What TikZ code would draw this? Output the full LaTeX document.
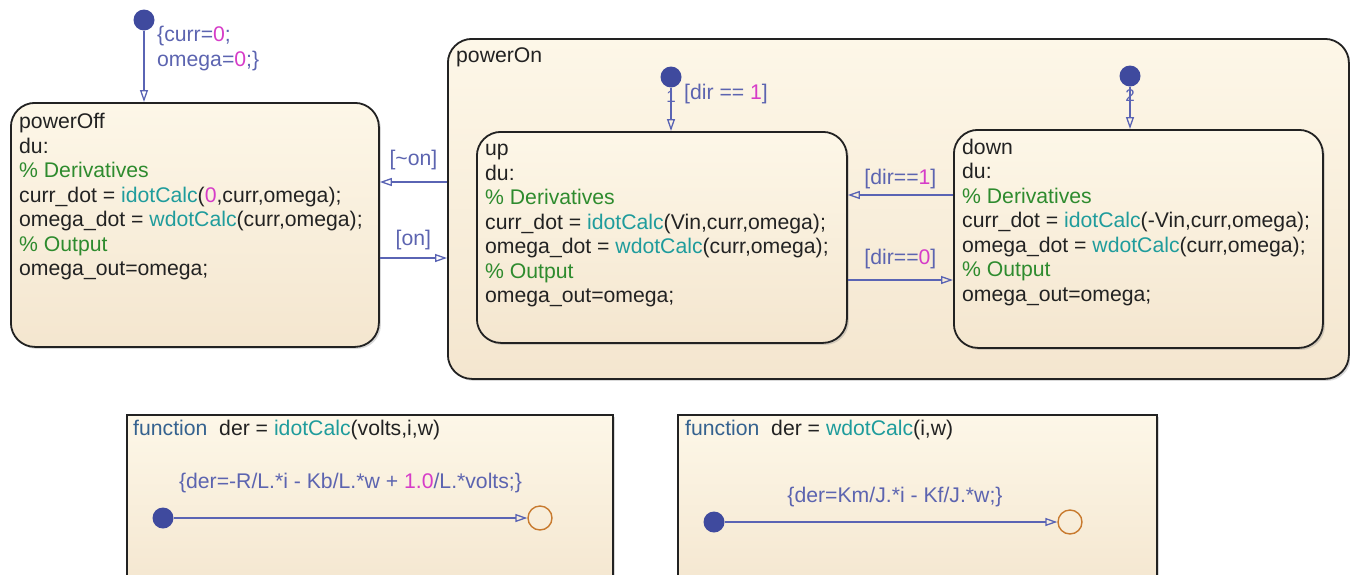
\documentclass[tikz,border=0pt]{standalone}
\usepackage{fontspec}
\setmainfont{Liberation Sans}
\usetikzlibrary{arrows.meta,positioning,shadows}
\definecolor{Edge}{HTML}{5A64B4}
\definecolor{Dot}{HTML}{3F4A9E}
\definecolor{Lbl}{HTML}{5C64B0}
\definecolor{Num}{HTML}{D63CC8}
\definecolor{Cmt}{HTML}{2E8B2E}
\definecolor{Fun}{HTML}{1F9C9C}
\definecolor{Kw}{HTML}{35628F}
\definecolor{Junc}{HTML}{C87A2E}
\definecolor{Ink}{HTML}{222222}
\definecolor{faceTop}{HTML}{FDF7E8}
\definecolor{faceBot}{HTML}{F4E6CF}
\newcommand\kNum[1]{\textcolor{Num}{#1}}
\newcommand\kCom[1]{\textcolor{Cmt}{#1}}
\newcommand\kFun[1]{\textcolor{Fun}{#1}}

\begin{document}
\begin{tikzpicture}[x=1pt,y=-1pt,font=\fontsize{21.2}{24.5}\selectfont,
    chart/.style={draw=Ink,line width=1.8pt,rounded corners=24pt,top color=faceTop,bottom color=faceBot,
      drop shadow={shadow xshift=2pt,shadow yshift=-2pt,opacity=.3},anchor=north west,inner sep=0},
    fbox/.style={chart,sharp corners},
    code/.style={anchor=north west,align=left,inner sep=0,text=Ink,execute at begin node=\strut},
    init/.style={circle,fill=Dot,minimum size=21pt,inner sep=0},
    junc/.style={circle,draw=Junc,line width=1.4pt,minimum size=24pt,inner sep=0},
    trans/.style={draw=Edge,line width=1.3pt,-{Triangle[open,length=12pt,width=8pt]}},
    lbl/.style={text=Lbl,inner sep=0},
    prio/.style={font=\fontsize{17}{17}\selectfont,text=Edge,inner sep=0}]
  \path[use as bounding box,clip] (0,0) rectangle (1350,574);
  \node[chart,minimum width=368,minimum height=244] (poff) at (10,102){};
  \node[chart,minimum width=901,minimum height=340] (pon) at (447,38){};
  \node[chart,minimum width=370,minimum height=211] (up) at (476,131){};
  \node[chart,minimum width=369,minimum height=218] (down) at (953,129){};
  \node[fbox,minimum width=486,minimum height=180] (fi) at (126,414){};
  \node[fbox,minimum width=479,minimum height=180] (fw) at (677,414){};
  \node[code] (poffTxt) at (19,113){powerOff\\du:\\\kCom{\% Derivatives}\\curr\_dot = \kFun{idotCalc}(\kNum{0},curr,omega);\\omega\_dot = \kFun{wdotCalc}(curr,omega);\\\kCom{\% Output}\\omega\_out=omega;};
  \node[code] (ponTxt) at (456,45.5){powerOn};
  \node[code] (upTxt) at (485,144){up\\du:\\\kCom{\% Derivatives}\\curr\_dot = \kFun{idotCalc}(Vin,curr,omega);\\omega\_dot = \kFun{wdotCalc}(curr,omega);\\\kCom{\% Output}\\omega\_out=omega;};
  \node[code] (downTxt) at (962,138.5){down\\du:\\\kCom{\% Derivatives}\\curr\_dot = \kFun{idotCalc}(-Vin,curr,omega);\\omega\_dot = \kFun{wdotCalc}(curr,omega);\\\kCom{\% Output}\\omega\_out=omega;};
  \node[code] (fiTxt) at (133,418.5){\textcolor{Kw}{function}~~der = \kFun{idotCalc}(volts,i,w)};
  \node[code] (fwTxt) at (685,418.5){\textcolor{Kw}{function}~~der = \kFun{wdotCalc}(i,w)};
  \node[init] (i0) at (144,20){};
  \node[init] (i1) at (671,77){};
  \node[init] (i2) at (1130,76){};
  \node[init] (si) at (163,518){};
  \node[junc] (ji) at (540,518){};
  \node[init] (sw) at (714,522){};
  \node[junc] (jw) at (1070,522){};
  \node[code,text=Lbl] (i0Txt) at (157,26){\{curr=\kNum{0};\\omega=\kNum{0};\}};
  \draw[trans] (i0) -- (i0 |- poff.north);
  \draw[trans] (i1) -- node[prio,pos=.2]{1} (i1 |- up.north);
  \draw[trans] (i2) -- node[prio,pos=.22]{2} (i2 |- down.north);
  \node[code,text=Lbl] (i1Txt) at (684,82.5){[dir == \kNum{1}]};
  \draw[trans] (pon.west |- 0,182) -- node[lbl,above=11pt]{[\textasciitilde on]} (poff.east |- 0,182);
  \draw[trans] (poff.east |- 0,258) -- node[lbl,above=7pt]{[on]} (pon.west |- 0,258);
  \draw[trans] (down.west |- 0,195) -- node[lbl,above=5.5pt]{[dir==\kNum{1}]} (up.east |- 0,195);
  \draw[trans] (up.east |- 0,280) -- node[lbl,above=10.5pt]{[dir==\kNum{0}]} (down.west |- 0,280);
  \draw[trans] (si) -- node[lbl,above=24pt]{\{der=-R/L.*i - Kb/L.*w + \kNum{1.0}/L.*volts;\}} (ji);
  \draw[trans] (sw) -- node[lbl,above=14pt,xshift=4pt]{\{der=Km/J.*i - Kf/J.*w;\}} (jw);
\end{tikzpicture}
\end{document}
